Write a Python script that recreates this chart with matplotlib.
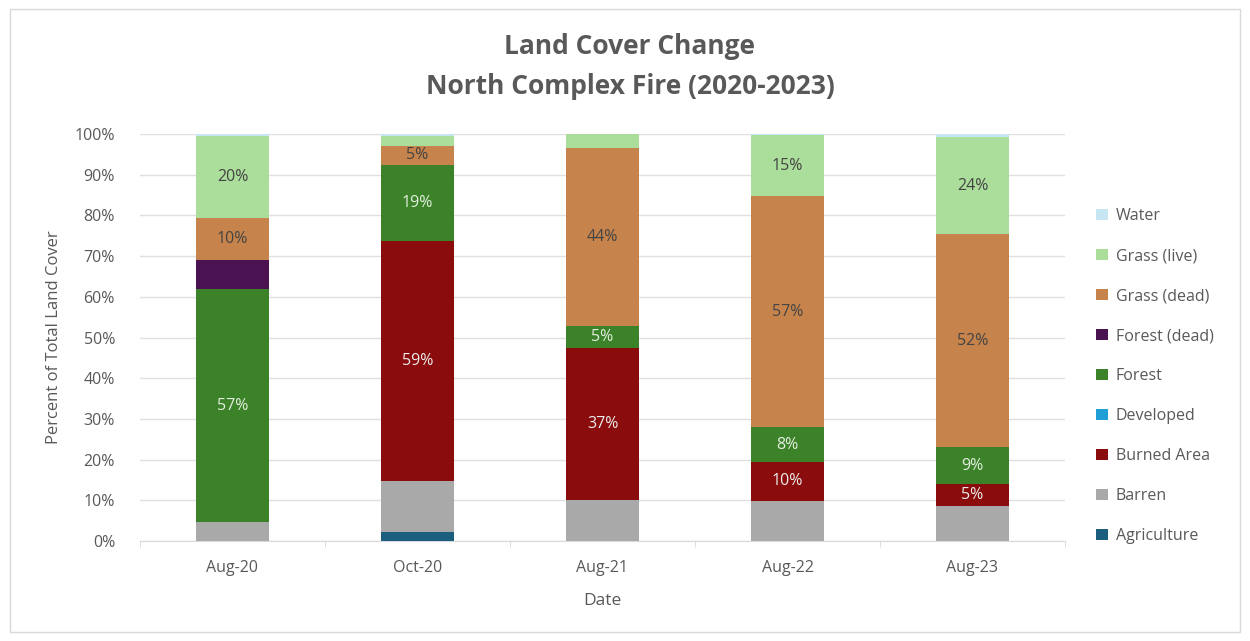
import matplotlib
matplotlib.use("Agg")
import matplotlib.pyplot as plt
import numpy as np
from matplotlib.patches import Rectangle

plt.rcParams['font.family'] = ['Open Sans', 'DejaVu Sans']

dates = ["Aug-20", "Oct-20", "Aug-21", "Aug-22", "Aug-23"]
# stack order bottom -> top
series_names = ["Agriculture", "Barren", "Burned Area", "Developed", "Forest",
                "Forest (dead)", "Grass (dead)", "Grass (live)", "Water"]
agriculture = [0.0, 2.3, 0.0, 0.0, 0.0]
barren = [4.6, 12.5, 10.1, 9.9, 8.7]
burned = [0.0, 58.9, 37.4, 9.6, 5.3]
developed = [0.0, 0.0, 0.0, 0.0, 0.0]
forest = [57.3, 18.7, 5.3, 8.4, 9.0]
forest_dead = [7.1, 0.0, 0.0, 0.0, 0.0]
grass_dead = [10.4, 4.7, 43.7, 56.8, 52.4]
grass_live = [20.1, 2.5, 3.5, 15.0, 23.8]
water = [0.5, 0.4, 0.0, 0.3, 0.8]

series_values = [agriculture, barren, burned, developed, forest,
                 forest_dead, grass_dead, grass_live, water]
colors = ["#1b5e7e", "#a9a9a9", "#8a0c0c", "#1f9fd5", "#3b8229",
          "#4a1250", "#c6834b", "#abdd9b", "#c7e6f3"]
labeled = {"Burned Area": "#ececec", "Forest": "#e4eedf",
           "Grass (dead)": "#444444", "Grass (live)": "#444444"}
yticks = [0, 10, 20, 30, 40, 50, 60, 70, 80, 90, 100]

W, H = 1250, 641
fig = plt.figure(figsize=(W / 100, H / 100), dpi=100)
fig.patch.set_facecolor("white")
fig.add_artist(Rectangle((10 / W, 9 / H), 1230 / W, 623 / H, transform=fig.transFigure,
                         fill=False, edgecolor="#d9d9d9", linewidth=1))

ax = fig.add_axes([140 / W, (H - 541) / H, 925 / W, 407 / H])
x = np.arange(len(dates))
bottom = np.zeros(len(dates))
handles = []
for name, vals, col in zip(series_names, series_values, colors):
    v = np.array(vals)
    b = ax.bar(x, v, width=0.395, bottom=bottom, color=col, label=name, zorder=3)
    handles.append(b)
    if name in labeled:
        for xi, (val, bt) in enumerate(zip(v, bottom)):
            if val >= 4.5:
                ax.text(xi, bt + val / 2, f"{round(val):d}%", ha="center", va="center",
                        fontsize=11.5, color=labeled[name], zorder=4)
    bottom = bottom + v

ax.set_xlim(-0.5, len(dates) - 0.5)
ax.set_ylim(0, 100)
ax.set_yticks(yticks)
ax.set_yticklabels([f"{t}%" for t in yticks], fontsize=11.5, color="#595959")
ax.set_xticks(x)
ax.set_xticklabels(dates, fontsize=11.5, color="#595959")
ax.set_xticks(np.arange(len(dates) + 1) - 0.5, minor=True)
ax.tick_params(axis="x", which="major", length=0, pad=14)
ax.tick_params(axis="x", which="minor", length=4, color="#d9d9d9")
ax.tick_params(axis="y", length=0, pad=18)
ax.grid(axis="y", color="#e0e0e0", linewidth=1, zorder=0)
for s in ["top", "right", "left"]:
    ax.spines[s].set_visible(False)
ax.spines["bottom"].set_color("#d9d9d9")

ax.set_ylabel("Percent of Total Land Cover", fontsize=12, color="#595959", labelpad=9)
ax.set_xlabel("Date", fontsize=12.5, color="#595959", labelpad=12)

fig.text(630 / W, 1 - 46 / H, "Land Cover Change", ha="center", va="center",
         fontsize=19, fontweight="bold", color="#595959")
fig.text(630 / W, 1 - 86 / H, "North Complex Fire (2020-2023)", ha="center", va="center",
         fontsize=19, fontweight="bold", color="#595959")

leg = fig.legend(handles[::-1], series_names[::-1], loc="center left",
                 bbox_to_anchor=(1082 / W, 1 - 376 / H), frameon=False,
                 fontsize=11.5, labelcolor="#595959", handlelength=0.7, handleheight=0.7,
                 handletextpad=0.5, labelspacing=1.5)

fig.savefig("out.png", dpi=100)
